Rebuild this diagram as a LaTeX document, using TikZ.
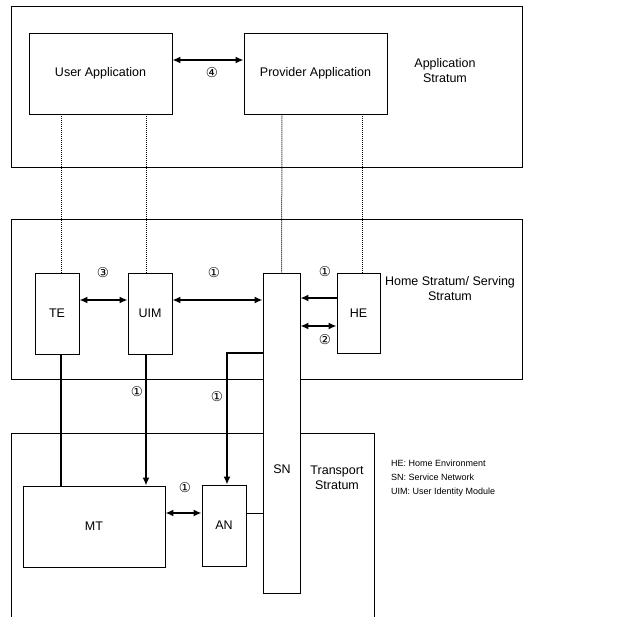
\documentclass[tikz,border=0pt]{standalone}
\usepackage{fontspec}
\setmainfont{Liberation Sans}
\newfontfamily\circfont{DejaVu Sans}
\usetikzlibrary{positioning, calc, arrows.meta}
\tikzset{
  layer/.style={line width=0.8pt},
  box/.style={draw, fill=white, line width=0.9pt, inner sep=0pt, font=\fontsize{12.5}{15}\selectfont},
  txt/.style={align=center, font=\fontsize{12.5}{15}\selectfont},
  link/.style={line width=1.7pt},
  both/.style={link, {Latex[length=8pt,width=7pt]}-{Latex[length=8pt,width=7pt]}},
  tip/.style={link, -{Latex[length=8pt,width=7pt]}},
  tie/.style={line width=1pt, dash pattern=on 1pt off 1pt},
  num/.style={inner sep=0pt, font=\circfont\fontsize{13.5}{13.5}\selectfont},
}
\begin{document}
\begin{tikzpicture}[x=1pt, y=-1pt]
        \useasboundingbox (0,0) rectangle (617,617);
        % strata
        \draw[layer] (11,6) rectangle (522,167);
        \draw[layer] (11,219) rectangle (522,379);
        \draw[layer] (11,617) -- (11,433) -- (374,433) -- (374,617);
        \node[txt] at (445,71) {Application\\Stratum};
        \node[txt] at (450,289) {Home Stratum/ Serving\\Stratum};
        \node[txt] at (337,478) {Transport\\Stratum};
        %
        \node[box, minimum width=143, minimum height=81] (ua) at (100.5,73.5) {User Application};
        \node[box, minimum width=143, minimum height=81] (pa) at (315.5,73.5) {Provider Application};
        %
        \node[box, minimum width=44, minimum height=81] (te) at (57,313.5) {TE};
        \node[box, minimum width=44, minimum height=81] (uim) at (150,313.5) {UIM};
        \node[box, minimum width=43, minimum height=80] (he) at (358.5,313) {HE};
        \node[box, minimum width=37, minimum height=320] (sn) at (281.5,433) {};
        \node[txt] (snl) at (282,469) {SN};
        %
        \node[box, minimum width=142, minimum height=81] (mt) at (94,526.5) {MT};
        \node[box, minimum width=44, minimum height=81] (an) at (224,525.5) {AN};
        %
        \draw[tie] ([xshift=-39.5]ua.south) -- ([xshift=4]te.north);
        \draw[tie] ([xshift=45.5]ua.south) -- ([xshift=-4]uim.north);
        \draw[tie] ([xshift=-33.5]pa.south) -- (sn.north);
        \draw[tie] ([xshift=46.5]pa.south) -- ([xshift=3.5]he.north);
        %
        \draw[both] (ua.east |- 0,60) -- (pa.west |- 0,60);
        \draw[both] (te.east |- 0,300) -- (uim.west |- 0,300);
        \draw[both] (uim.east |- 0,300) -- (sn.west |- 0,300);
        \draw[tip] (he.west |- 0,298) -- (sn.east |- 0,298);
        \draw[both] (he.west |- 0,326) -- (sn.east |- 0,326);
        %
        \draw[link] ([xshift=4]te.south) -- ([xshift=4]te.south |- mt.north);
        \draw[tip] ([xshift=-4]uim.south) -- ([xshift=-4]uim.south |- mt.north);
        \draw[tip] (sn.west |- 0,353) -| ([xshift=3]an.north);
        \draw[both] (mt.east |- 0,513) -- (an.west |- 0,513);
        \draw[layer] (an.east |- 0,513) -- (sn.west |- 0,513);
        %
        \node[num] at (212,73) {④};
        \node[num] at (103,273) {③};
        \node[num] at (214,273) {①};
        \node[num] at (325,272) {①};
        \node[num] at (325,340) {②};
        \node[num] at (137,392) {①};
        \node[num] at (217,397) {①};
        \node[num] at (185,488) {①};
        %
        \node[align=left, anchor=north west, inner sep=0pt, font=\fontsize{9}{14}\selectfont] (legend) at (391,460)
            {HE: Home Environment\\SN: Service Network\\UIM: User Identity Module};
    \end{tikzpicture}
\end{document}
